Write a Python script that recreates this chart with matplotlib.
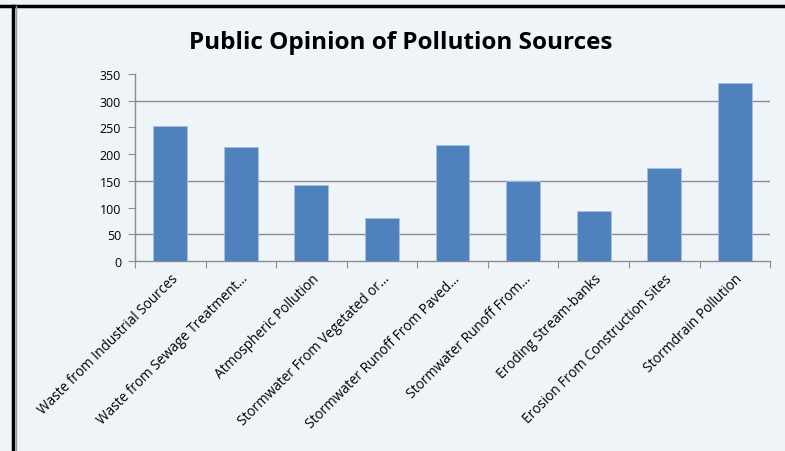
import matplotlib.pyplot as plt

# Survey results
sources = [
    'Waste from Industrial Sources',
    'Waste from Sewage Treatment…',
    'Atmospheric Pollution',
    'Stormwater From Vegetated or…',
    'Stormwater Runoff From Paved…',
    'Stormwater Runoff From…',
    'Eroding Stream-banks',
    'Erosion From Construction Sites',
    'Stormdrain Pollution',
]
responses = [253, 213, 143, 81, 218, 150, 93, 175, 333]
y_ticks = [0, 50, 100, 150, 200, 250, 300, 350]
grid_levels = [50, 150, 300]  # the other gridlines are lost in the reference image

bg = '#eff4f9'
bar_color = '#4f81bd'
axis_gray = '#8c8c8c'

fig = plt.figure(figsize=(7.85, 4.52), dpi=100, facecolor=bg)
ax = fig.add_axes([0.172, 0.4204, 0.809, 0.4136])
ax.set_facecolor(bg)

x = range(len(sources))
ax.bar(x, responses, width=0.48, color=bar_color, edgecolor='#a7c0de',
       linewidth=0.6, zorder=3)

for g in grid_levels:
    ax.axhline(g, color=axis_gray, linewidth=1.0, zorder=1)

ax.set_xlim(-0.5, len(sources) - 0.5)
ax.set_ylim(0, 350)
ax.set_yticks(y_ticks)
ax.set_yticklabels([str(v) for v in y_ticks], fontsize=9, fontfamily='Open Sans')

# category ticks sit between the bars
ax.set_xticks([i - 0.5 for i in range(len(sources) + 1)], minor=False)
ax.set_xticklabels([])
ax.set_xticks(list(x), minor=True)
ax.set_xticklabels(sources, minor=True, rotation=45, ha='right', va='top',
                   rotation_mode='anchor', fontsize=9.8, fontfamily='Open Sans')
ax.tick_params(axis='x', which='minor', length=0, pad=7)
ax.tick_params(axis='x', which='major', length=5, color=axis_gray, direction='out')
ax.tick_params(axis='y', length=5, color=axis_gray, direction='out', pad=5)

for side in ['top', 'right']:
    ax.spines[side].set_visible(False)
for side in ['left', 'bottom']:
    ax.spines[side].set_color(axis_gray)
    ax.spines[side].set_linewidth(1.0)

fig.text(0.51, 0.905, 'Public Opinion of Pollution Sources', ha='center',
         va='center', fontsize=17.5, fontweight='bold', fontfamily='Open Sans')

# frame lines along the top and left edges
fig.add_artist(plt.Line2D([0, 1], [0.985, 0.985], color='black', linewidth=2.5,
                          transform=fig.transFigure))
fig.add_artist(plt.Line2D([0.016, 0.016], [0, 0.985], color='black', linewidth=2.5,
                          transform=fig.transFigure))
fig.add_artist(plt.Line2D([0.02, 0.02], [0, 0.985], color='#9a9a9a', linewidth=1,
                          transform=fig.transFigure))

fig.savefig('out.png', dpi=100, facecolor=bg)
